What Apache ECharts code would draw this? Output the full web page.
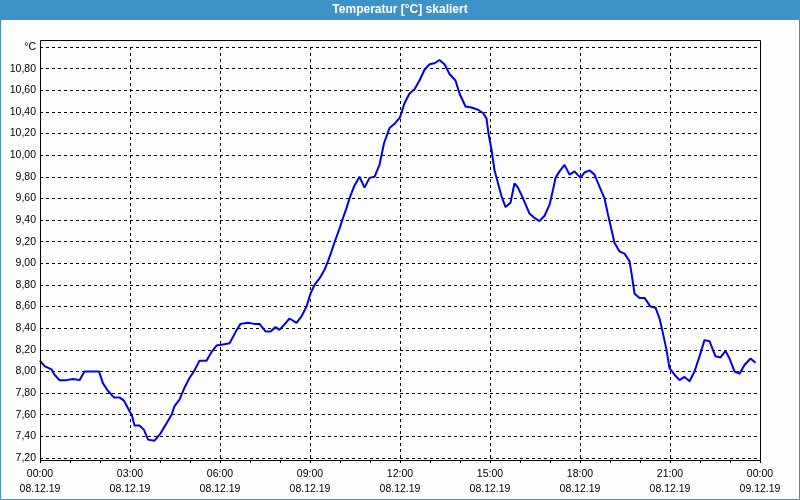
<!DOCTYPE html>
<html>
<head>
<meta charset="utf-8">
<script src="https://cdn.jsdelivr.net/npm/echarts@6/dist/echarts.min.js"></script>
<style>
html,body{margin:0;padding:0;background:#fcfdfc;}
#chart{width:800px;height:500px;}
</style>
</head>
<body>
<div id="chart"></div>
<script>
// ---- data ----
var titleText = 'Temperatur [°C] skaliert';
var unitLabel = '°C';
var xTickTimes = ['00:00','03:00','06:00','09:00','12:00','15:00','18:00','21:00','00:00'];
var xTickDates = ['08.12.19','08.12.19','08.12.19','08.12.19','08.12.19','08.12.19','08.12.19','08.12.19','09.12.19'];
// minutes since 08.12.19 00:00
var minutes = [0,9,23,29,39,53,66,79,89,103,118,126,136,148,159,168,176,184,189,199,208,216,229,
  240,249,263,269,279,289,299,309,319,333,343,353,366,379,393,401,416,429,439,451,461,471,479,
  486,499,513,523,533,541,549,559,569,576,583,591,599,606,613,619,628,639,649,659,669,679,688,699,709,
  720,729,739,749,759,769,779,789,799,809,819,831,839,851,863,876,886,893,897,903,909,916,923,931,941,949,
  956,966,979,989,999,1009,1019,1026,1031,1039,1049,1059,1069,1081,1089,1099,1109,1119,1129,1136,1143,1149,1159,1169,1179,1184,1189,1199,
  1209,1221,1231,1239,1246,1253,1259,1269,1279,1289,1299,1309,1319,1329,1339,1351,1361,1371,1379,1389,1399,1409,1421,1431];
var temps = [8.10,8.05,8.02,7.97,7.92,7.92,7.93,7.92,8.00,8.00,8.00,7.89,7.82,7.76,7.76,7.73,7.66,7.59,7.50,7.50,7.46,7.37,7.36,
  7.42,7.49,7.60,7.68,7.74,7.85,7.94,8.01,8.10,8.10,8.18,8.24,8.25,8.26,8.38,8.44,8.45,8.44,8.44,8.37,8.37,8.41,8.385,
  8.42,8.49,8.45,8.51,8.60,8.72,8.80,8.86,8.94,9.02,9.11,9.22,9.32,9.42,9.51,9.60,9.71,9.80,9.70,9.79,9.80,9.91,10.11,10.25,10.29,
  10.35,10.48,10.57,10.61,10.69,10.79,10.84,10.85,10.88,10.84,10.75,10.69,10.57,10.45,10.44,10.42,10.39,10.34,10.20,10.05,9.86,9.74,9.62,9.52,9.56,9.74,
  9.70,9.60,9.46,9.42,9.39,9.44,9.54,9.68,9.79,9.85,9.91,9.82,9.85,9.79,9.84,9.86,9.82,9.71,9.60,9.45,9.31,9.19,9.11,9.09,9.02,8.88,8.72,8.68,
  8.68,8.60,8.59,8.49,8.35,8.20,8.03,7.97,7.92,7.95,7.91,8.00,8.14,8.29,8.28,8.14,8.13,8.19,8.12,8.00,7.98,8.06,8.12,8.08];

var seriesData = minutes.map(function(m, i){ return [m / 60, temps[i]]; });

var FONT = 'Liberation Sans';
var chart = echarts.init(document.getElementById('chart'), null, {renderer:'canvas'});
chart.setOption({
  animation: false,
  backgroundColor: '#fcfdfc',
  grid: {left: 40, right: 40, top: 47, bottom: 42, containLabel: false},
  xAxis: {
    type: 'value', min: 0, max: 24, interval: 3, offset: 2,
    axisLine: {show: false},
    axisTick: {show: true, length: 3, lineStyle: {color: '#000'}},
    minorTick: {show: true, splitNumber: 3, length: 3, lineStyle: {color: '#000'}},
    splitLine: {show: true, lineStyle: {color: '#000', type: [3,3], width: 1}},
    axisLabel: {
      margin: 7, color: '#000', fontFamily: FONT, fontSize: 10.5, lineHeight: 15,
      showMinLabel: true, showMaxLabel: true, hideOverlap: false,
      formatter: function(v){ var i = Math.round(v / 3); return xTickTimes[i] + '\n' + xTickDates[i]; }
    }
  },
  yAxis: {
    type: 'value', min: 7.2, max: 11.0, interval: 0.2,
    axisLine: {show: false}, axisTick: {show: false},
    splitLine: {show: true, lineStyle: {color: '#000', type: [3,3], width: 1}},
    axisLabel: {
      margin: 4, color: '#000', fontFamily: FONT, fontSize: 10.5,
      showMinLabel: true, showMaxLabel: true,
      formatter: function(v){ if (v >= 10.999) return unitLabel; return v.toFixed(2).replace('.', ','); }
    }
  },
  series: [{
    type: 'line', data: seriesData, showSymbol: false, smooth: false,
    lineStyle: {color: '#0000ee', width: 2}, z: 5
  }],
  graphic: [
    {type: 'rect', z: 100, shape: {x: 0, y: 0, width: 800, height: 20}, style: {fill: '#3d92c6'}},
    {type: 'text', z: 101, x: 400, y: 10, style: {text: titleText, fill: '#fff', font: 'bold 12px "Liberation Sans"', textAlign: 'center', textVerticalAlign: 'middle'}},
    {type: 'rect', z: 100, shape: {x: 0.5, y: 19.5, width: 799, height: 480}, style: {fill: null, stroke: '#3d92c6', lineWidth: 1}},
    {type: 'rect', z: 100, shape: {x: 40.5, y: 40.5, width: 720, height: 420}, style: {fill: null, stroke: '#000', lineWidth: 1}}
  ]
});
</script>
</body>
</html>
